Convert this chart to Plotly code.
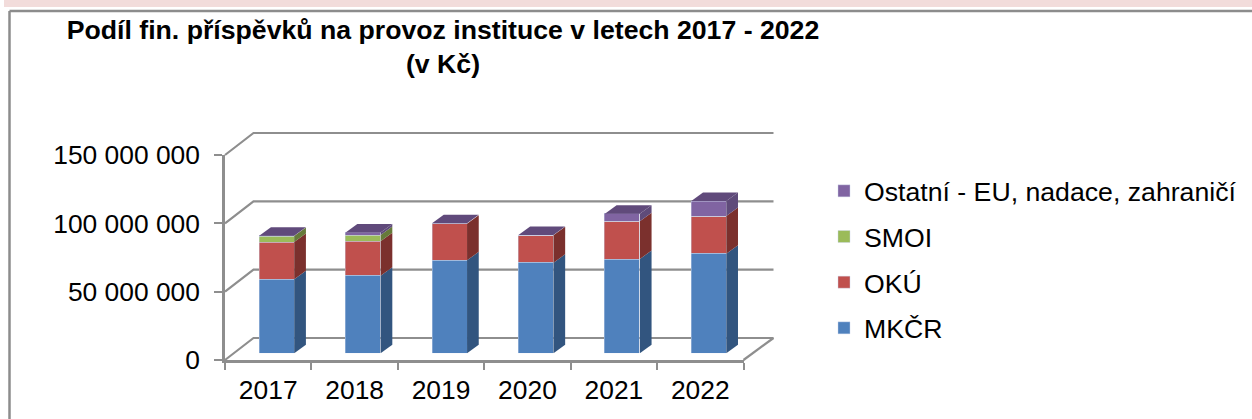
import plotly.graph_objects as go

# ---- data (Kč) ----
years = ["2017", "2018", "2019", "2020", "2021", "2022"]
mkcr = [54100000, 56800000, 68000000, 66300000, 69000000, 72900000]
oku = [27300000, 25200000, 26800000, 20000000, 27600000, 27600000]
smoi = [4400000, 4600000, 0, 0, 0, 0]
ostatni = [300000, 1700000, 300000, 300000, 5600000, 11000000]
series = [
    ("MKČR", mkcr, "#4f81bd", "#32557f"),
    ("OKÚ", oku, "#c0504d", "#7b302d"),
    ("SMOI", smoi, "#9bbb59", "#667a3a"),
    ("Ostatní - EU, nadace, zahraničí", ostatni, "#8064a2", "#5f4b7a"),
]
y_ticks = [0, 50000000, 100000000, 150000000]
title_text = "Podíl fin. příspěvků na provoz instituce v letech 2017 - 2022<br>(v Kč)"

# ---- layout constants (pixels of the 1252x419 page) ----
W, H = 1252, 419
GRID = "#8e8e8e"
FONT = "Liberation Sans, Arial, sans-serif"
FS = 26.4
YMAX = 150000000
front = dict(l=225, r=743.5, b=360, t=155)
back = dict(l=253.5, r=773.5, b=338, t=133)
plane = dict(l=233.5, r=752, b=353.3, t=148.3)
bar_w = 0.405
side_dx_px, side_dy_px = 11.7, 8.5
# wall system: spans the whole floor and wall, a little padded so that edge lines are not clipped
PAD = 4
wall = dict(l=front["l"] - PAD, r=back["r"] + PAD, b=front["b"] + PAD, t=back["t"] - PAD)


def dom_x(p):
    return [p["l"] / W, p["r"] / W]


def dom_y(p):
    return [1 - p["b"] / H, 1 - p["t"] / H]


fig = go.Figure()

# walls: x2/y2 are value units on the back plane
px_x = (back["r"] - back["l"]) / 6
px_y = (back["b"] - back["t"]) / YMAX
off_x = (back["l"] - front["l"]) / px_x
off_xr = (back["r"] - front["r"]) / px_x
off_y = (front["b"] - back["b"]) / px_y
wall_x_range = [(wall["l"] - back["l"]) / px_x, 6 + (wall["r"] - back["r"]) / px_x]
wall_y_range = [(back["b"] - wall["b"]) / px_y, YMAX + (back["t"] - wall["t"]) / px_y]


def wall_line(xs_, ys_):
    fig.add_trace(go.Scatter(x=xs_, y=ys_, xaxis="x2", yaxis="y2", mode="lines",
                             line=dict(color=GRID, width=2.2), showlegend=False, hoverinfo="skip"))


for v in y_ticks:
    wall_line([-off_x, 0, 6], [v - off_y, v, v])
wall_line([6 - off_xr, 6], [-off_y, 0])

# invisible trace so that the front axes exist
fig.add_trace(go.Bar(x=years, y=[0] * 6, xaxis="x", yaxis="y", showlegend=False, hoverinfo="skip",
                     marker_color="rgba(0,0,0,0)"))

# columns: side and top faces computed from the values, fronts are stacked bars
xs = list(range(len(years)))
unit_x = (plane["r"] - plane["l"]) / 6
unit_y = (plane["b"] - plane["t"]) / YMAX
dx = side_dx_px / unit_x
dy = side_dy_px / unit_y
bottoms = [0] * len(years)
tops = [sum(s[1][i] for s in series) for i in xs]
for name, vals, col, dark in series:
    for i in xs:
        if vals[i] <= 0:
            continue
        x1 = xs[i] + bar_w / 2
        lo, hi = bottoms[i], bottoms[i] + vals[i]
        fig.add_trace(go.Scatter(x=[x1, x1 + dx, x1 + dx, x1, x1], y=[lo, lo + dy, hi + dy, hi, lo],
                                 xaxis="x3", yaxis="y3", mode="lines", fill="toself", fillcolor=dark,
                                 line=dict(width=0, color=dark), showlegend=False, hoverinfo="skip"))
    bottoms = [b + v for b, v in zip(bottoms, vals)]
for i in xs:
    x0, x1 = xs[i] - bar_w / 2, xs[i] + bar_w / 2
    t = tops[i]
    fig.add_trace(go.Scatter(x=[x0, x0 + dx, x1 + dx, x1, x0], y=[t, t + dy, t + dy, t, t],
                             xaxis="x3", yaxis="y3", mode="lines", fill="toself", fillcolor="#604a7b",
                             line=dict(width=0, color="#604a7b"), showlegend=False, hoverinfo="skip"))
for k, (name, vals, col, dark) in enumerate(series):
    fig.add_trace(go.Bar(x=xs, y=vals, name=name, xaxis="x3", yaxis="y3", width=bar_w,
                         marker=dict(color=col, line=dict(width=0.6, color="rgba(205,215,235,0.7)")),
                         legendgroup=name, legendrank=100 - k, cliponaxis=False))

frame = [
    dict(type="rect", xref="paper", yref="paper", x0=4 / W, x1=1, y0=1 - 7 / H, y1=1,
         fillcolor="#f2dcdb", line_width=0, layer="below"),
    dict(type="line", xref="paper", yref="paper", x0=9.5 / W, x1=1, y0=1 - 11 / H, y1=1 - 11 / H,
         line=dict(color="#8c8c8c", width=2.5), layer="below"),
    dict(type="line", xref="paper", yref="paper", x0=9.5 / W, x1=9.5 / W, y0=0, y1=1 - 11 / H,
         line=dict(color="#8c8c8c", width=2.5), layer="below"),
]

fig.update_layout(
    template="none",
    width=W, height=H, margin=dict(l=0, r=0, t=0, b=0, pad=0), autosize=False,
    paper_bgcolor="white", plot_bgcolor="rgba(0,0,0,0)",
    separators=". ", barmode="stack", bargap=0, shapes=frame,
    font=dict(family=FONT, size=FS, color="black"),
    title=dict(text=title_text, x=443 / W, xanchor="center", xref="paper",
               y=1 - 38.5 / H, yanchor="top", yref="paper",
               font=dict(family=FONT, size=26.67, color="black", weight="bold")),
    xaxis=dict(domain=dom_x(front), anchor="y", type="category", categoryorder="array", categoryarray=years,
               tickson="boundaries", ticks="outside", ticklen=7, tickwidth=2, tickcolor=GRID,
               showline=True, linecolor=GRID, linewidth=2.5, showgrid=False, zeroline=False,
               tickfont=dict(size=FS), ticklabelstandoff=5, automargin=False, fixedrange=True),
    yaxis=dict(domain=dom_y(front), anchor="x", range=[0, YMAX], tickmode="array", tickvals=y_ticks,
               tickformat=",d", ticks="outside", ticklen=8, tickwidth=2, tickcolor=GRID,
               showline=True, linecolor=GRID, linewidth=2.5, showgrid=False, zeroline=False,
               tickfont=dict(size=FS), ticklabelstandoff=9, automargin=False, fixedrange=True),
    xaxis2=dict(domain=dom_x(wall), anchor="y2", range=wall_x_range, visible=False, automargin=False, fixedrange=True),
    yaxis2=dict(domain=dom_y(wall), anchor="x2", range=wall_y_range, visible=False, automargin=False, fixedrange=True),
    xaxis3=dict(domain=dom_x(plane), anchor="y3", range=[-0.5, 5.5], visible=False, automargin=False, fixedrange=True),
    yaxis3=dict(domain=dom_y(plane), anchor="x3", range=[0, YMAX], visible=False, automargin=False, fixedrange=True),
    legend=dict(x=824 / W, xanchor="left", y=1 - 167 / H, yanchor="top", traceorder="grouped",
                tracegroupgap=8, font=dict(size=26.67), bgcolor="rgba(0,0,0,0)"),
)

fig.write_html("out.html", config=dict(displayModeBar=False),
               post_script="document.body.style.margin='0';document.documentElement.style.overflow='hidden';")
